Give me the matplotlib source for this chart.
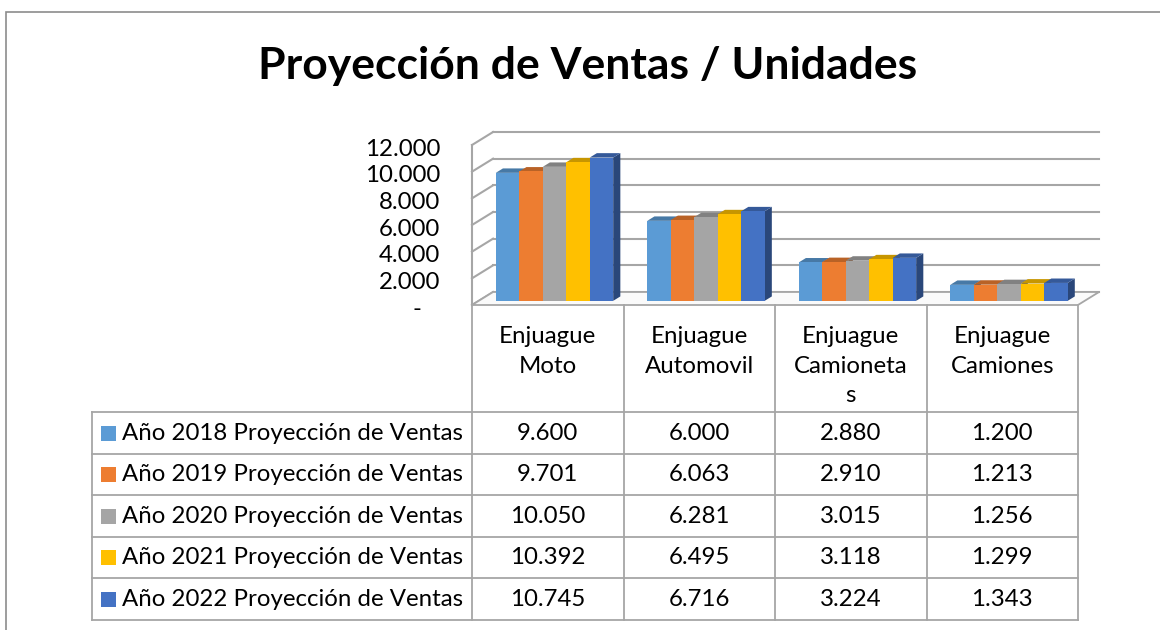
import matplotlib.pyplot as plt
from matplotlib.patches import Polygon, Rectangle
from matplotlib.transforms import ScaledTranslation
from matplotlib.colors import to_rgb

# datos
categorias = ['Enjuague\nMoto', 'Enjuague\nAutomovil', 'Enjuague\nCamioneta\ns', 'Enjuague\nCamiones']
series = ['Año 2018 Proyección de Ventas', 'Año 2019 Proyección de Ventas',
          'Año 2020 Proyección de Ventas', 'Año 2021 Proyección de Ventas',
          'Año 2022 Proyección de Ventas']
v2018 = [9600, 6000, 2880, 1200]
v2019 = [9701, 6063, 2910, 1213]
v2020 = [10050, 6281, 3015, 1256]
v2021 = [10392, 6495, 3118, 1299]
v2022 = [10745, 6716, 3224, 1343]
valores = [v2018, v2019, v2020, v2021, v2022]
ticks_y = [0, 2000, 4000, 6000, 8000, 10000, 12000]

colores = ['#5B9BD5', '#ED7D31', '#A5A5A5', '#FFC000', '#4472C4']
gris = '#A6A6A6'
fs = 17.3

plt.rcParams['font.family'] = ['Lato', 'DejaVu Sans']

W, H = 1160, 630
fig = plt.figure(figsize=(W / 100, H / 100), dpi=100)


def caja(x0, y0, x1, y1):
    # pixeles -> fraccion de figura
    return [x0 / W, 1 - y1 / H, (x1 - x0) / W, (y1 - y0) / H]


def miles(v):
    return f'{v:,}'.replace(',', '.')


def sombra(c, f):
    return tuple(min(1, x * f) for x in to_rgb(c))


# marco exterior
fig.patches.append(Rectangle((6 / W, -0.2), 1.2, 1.2 - 12 / H, transform=fig.transFigure,
                             fill=False, edgecolor='#8C8C8C', lw=1.2))

fig.text(588 / W, 1 - 66 / H, 'Proyección de Ventas / Unidades',
         ha='center', va='center', fontsize=32, fontweight='bold')

# grafico 3D (proyeccion oblicua)
DX = 0.139   # profundidad en unidades de categoria
DY = 975     # profundidad en unidades de valor
n = len(categorias)
ax = fig.add_axes(caja(472, 132, 1099, 305))
ax.set_xlim(0, n + DX)
ax.set_ylim(0, ticks_y[-1] + DY)
ax.axis('off')

for t in ticks_y:
    ax.plot([DX, n + DX], [t + DY, t + DY], color=gris, lw=1.5, zorder=1, clip_on=False)
    ax.plot([0, DX], [t, t + DY], color=gris, lw=1.5, zorder=1, clip_on=False)
ax.plot([0, 0], [0, ticks_y[-1]], color=gris, lw=1.5, zorder=1, clip_on=False)

# piso
ax.add_patch(Polygon([[0, 0], [n, 0], [n + DX, DY], [DX, DY]], closed=True,
                     facecolor='#FAFAFA', edgecolor=gris, lw=1.3, zorder=2, clip_on=False))

off = ScaledTranslation(-0.32, -0.04, fig.dpi_scale_trans)
for t in ticks_y:
    lab = '-   ' if t == 0 else miles(t)
    ax.text(0, t, lab, transform=ax.transData + off, ha='right', va='center', fontsize=fs)

ancho = 0.155
z0, z1 = 0.32, 0.66
inicio = (1 - ancho * len(series)) / 2
ddx, ddy = (z1 - z0) * DX, (z1 - z0) * DY
for c in range(n):
    for s, vals in enumerate(valores):
        v = vals[c]
        x = c + inicio + s * ancho + z0 * DX
        b = z0 * DY
        lado = [[x + ancho, b], [x + ancho, b + v], [x + ancho + ddx, b + v + ddy], [x + ancho + ddx, b + ddy]]
        tapa = [[x, b + v], [x + ancho, b + v], [x + ancho + ddx, b + v + ddy], [x + ddx, b + v + ddy]]
        ax.add_patch(Polygon(lado, closed=True, color=sombra(colores[s], 0.62), lw=0, zorder=3, clip_on=False))
        ax.add_patch(Polygon(tapa, closed=True, color=sombra(colores[s], 0.78), lw=0, zorder=3, clip_on=False))
        ax.bar(x, v, width=ancho, bottom=b, align='edge', color=colores[s], lw=0, zorder=3, clip_on=False)

# tabla de datos
xl = -(472 - 92) / 151.5
hh = 107 / 41.4
tb = fig.add_axes(caja(92, 305, 1078, 620))
tb.set_xlim(xl, n)
tb.set_ylim(0, len(series) + hh)
tb.axis('off')

for r in range(len(series) + 1):
    tb.plot([xl, n], [r, r], color=gris, lw=1.3, clip_on=False)
for c in range(n + 1):
    tb.plot([c, c], [0, len(series) + hh], color=gris, lw=1.3, clip_on=False)
tb.plot([xl, xl], [0, len(series)], color=gris, lw=1.3, clip_on=False)

for c, cat in enumerate(categorias):
    tb.text(c + 0.5, len(series) + hh - 0.5, cat, ha='center', va='top',
            fontsize=fs, linespacing=1.52)

for s, nombre in enumerate(series):
    y = len(series) - s - 0.5
    tb.add_patch(Rectangle((xl + 9 / 151.5, y - 7.5 / 41.4), 15 / 151.5, 15 / 41.4,
                           color=colores[s], lw=0))
    tb.text(xl + 30 / 151.5, y, nombre, ha='left', va='center', fontsize=fs)
    for c in range(n):
        tb.text(c + 0.5, y, miles(valores[s][c]), ha='center', va='center', fontsize=fs)

fig.savefig('out.png', dpi=100)
